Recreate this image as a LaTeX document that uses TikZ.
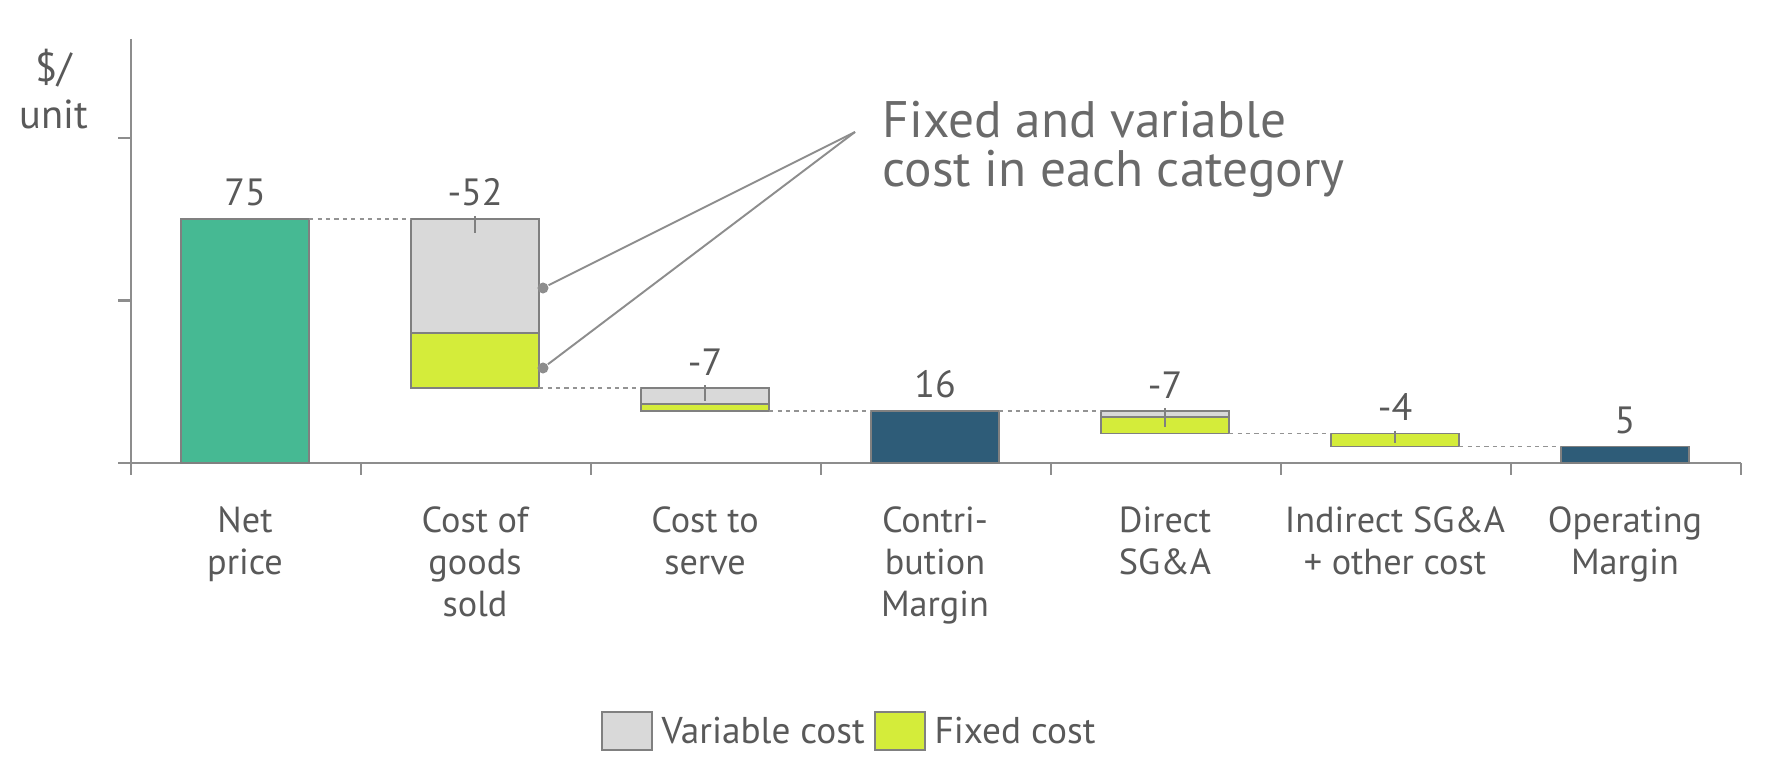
\documentclass[tikz,border=0pt]{standalone}
\usepackage{fontspec}
\setmainfont{PT Sans}
\usetikzlibrary{positioning}
\definecolor{netgreen}{HTML}{46B993}
\definecolor{margblue}{HTML}{2E5C78}
\definecolor{varcol}{HTML}{D9D9D9}
\definecolor{fixcol}{HTML}{D4EC3A}
\definecolor{edgegray}{HTML}{808080}
\definecolor{txtgray}{HTML}{595959}
\newcommand{\vh}{0.0325cm}
\tikzset{
  bar/.style={draw=edgegray, line width=0.5pt, minimum width=1.28cm, inner sep=0pt, outer sep=0pt, anchor=south west},
  guide/.style={draw=edgegray!85, line width=0.45pt, dash pattern=on 1.2pt off 1.2pt},
  stub/.style={draw=edgegray, line width=0.4pt},
  axis/.style={draw=edgegray!90, line width=0.6pt},
  val/.style={text=txtgray, font=\fontsize{10.8}{13}\selectfont, inner sep=0pt},
  cat/.style={text=txtgray, font=\fontsize{10.3}{11.95}\selectfont, align=center, anchor=north, inner sep=0pt},
  legtext/.style={text=txtgray, font=\fontsize{10.6}{12}\selectfont, inner sep=0pt},
  key/.style={draw=edgegray, line width=0.5pt, minimum width=0.5cm, minimum height=0.38cm, inner sep=0pt},
  dot/.style={circle, fill=edgegray!90, inner sep=0pt, minimum size=0.11cm},
}
\begin{document}
\begin{tikzpicture}[x=0.01cm, y=0.01cm]
\useasboundingbox (0,0) rectangle (1771,781);

% axes
\draw[axis] (131,742) -- (131,318) -- (1741,318);
\foreach \t in {318,480.5,643} \draw[axis] (118,\t) -- (131,\t);
\foreach \k in {0,...,7} \draw[axis] ({131+230*\k},318) -- ++(0,-12);
\node[text=txtgray, font=\fontsize{11.5}{13.4}\selectfont, align=center, inner sep=0pt] (unit) at (54,692) {\$/\\unit};

% bars (value units)
\begin{scope}[shift={(0,3.18cm)}, y=0.0325cm]
\node[bar, fill=netgreen, minimum height=75*\vh] (np) at (181,0) {};
\node[bar, fill=fixcol, minimum height=17*\vh] (cogsf) at (411,23) {};
\node[bar, fill=varcol, minimum height=35*\vh] (cogsv) at (411,40) {};
\node[bar, fill=fixcol, minimum height=2*\vh] (ctsf) at (641,16) {};
\node[bar, fill=varcol, minimum height=5*\vh] (ctsv) at (641,18) {};
\node[bar, fill=margblue, minimum height=16*\vh] (cm) at (871,0) {};
\node[bar, fill=fixcol, minimum height=5*\vh] (dsf) at (1101,9) {};
\node[bar, fill=varcol, minimum height=2*\vh] (dsv) at (1101,14) {};
\node[bar, fill=fixcol, minimum height=4*\vh] (isf) at (1331,5) {};
\node[bar, fill=margblue, minimum height=5*\vh] (om) at (1561,0) {};
\end{scope}

% step guides
\draw[guide] (np.north east) -- (cogsv.north west);
\draw[guide] (cogsf.south east) -- (ctsv.north west);
\draw[guide] (ctsf.south east) -- (cm.north west);
\draw[guide] (cm.north east) -- (dsv.north west);
\draw[guide] (dsf.south east) -- (isf.north west);
\draw[guide] (isf.south east) -- (om.north west);

% stubs
\draw[stub] ([yshift=0.03cm]cogsv.north) -- ([yshift=-0.14cm]cogsv.north);
\draw[stub] ([yshift=0.03cm]ctsv.north) -- ([yshift=-0.13cm]ctsv.north);
\draw[stub] ([yshift=0.03cm]dsv.north) -- ([yshift=-0.16cm]dsv.north);
\draw[stub] ([yshift=0.03cm]isf.north) -- ([yshift=-0.09cm]isf.north);

% values
\node[val, above=0.12cm of np] (vnp) {75};
\node[val, above=0.12cm of cogsv] (vcogs) {-52};
\node[val, above=0.12cm of ctsv] (vcts) {-7};
\node[val, above=0.12cm of cm] (vcm) {16};
\node[val, above=0.12cm of dsv] (vds) {-7};
\node[val, above=0.12cm of isf] (vis) {-4};
\node[val, above=0.12cm of om] (vom) {5};

% categories
\node[cat] (cnp) at (245,275) {Net\\price};
\node[cat] (ccogs) at (475,275) {Cost of\\goods\\sold};
\node[cat] (ccts) at (705,275) {Cost to\\serve};
\node[cat] (ccm) at (935,275) {Contri-\\bution\\Margin};
\node[cat] (cds) at (1165,275) {Direct\\SG\&A};
\node[cat] (cis) at (1395,275) {Indirect SG\&A\\+ other cost};
\node[cat] (com) at (1625,275) {Operating\\Margin};

% note
\node[text=txtgray!90, font=\fontsize{14.6}{14.2}\selectfont, align=left, anchor=north west, inner sep=0pt] (note) at (882,681) {Fixed and variable\\cost in each category};
\coordinate (notetip) at (855,649);
\node[dot] (dotv) at (543,493) {};
\node[dot] (dotf) at (543,413) {};
\draw[edgegray!90, line width=0.55pt] (notetip) -- (dotv);
\draw[edgegray!90, line width=0.55pt] (notetip) -- (dotf);

% legend
\node[key, fill=varcol] (keyv) at (627,50) {};
\node[legtext, right=0.08cm of keyv] (legv) {Variable cost};
\node[key, fill=fixcol] (keyf) at (900,50) {};
\node[legtext, right=0.08cm of keyf] (legf) {Fixed cost};
\end{tikzpicture}
\end{document}
